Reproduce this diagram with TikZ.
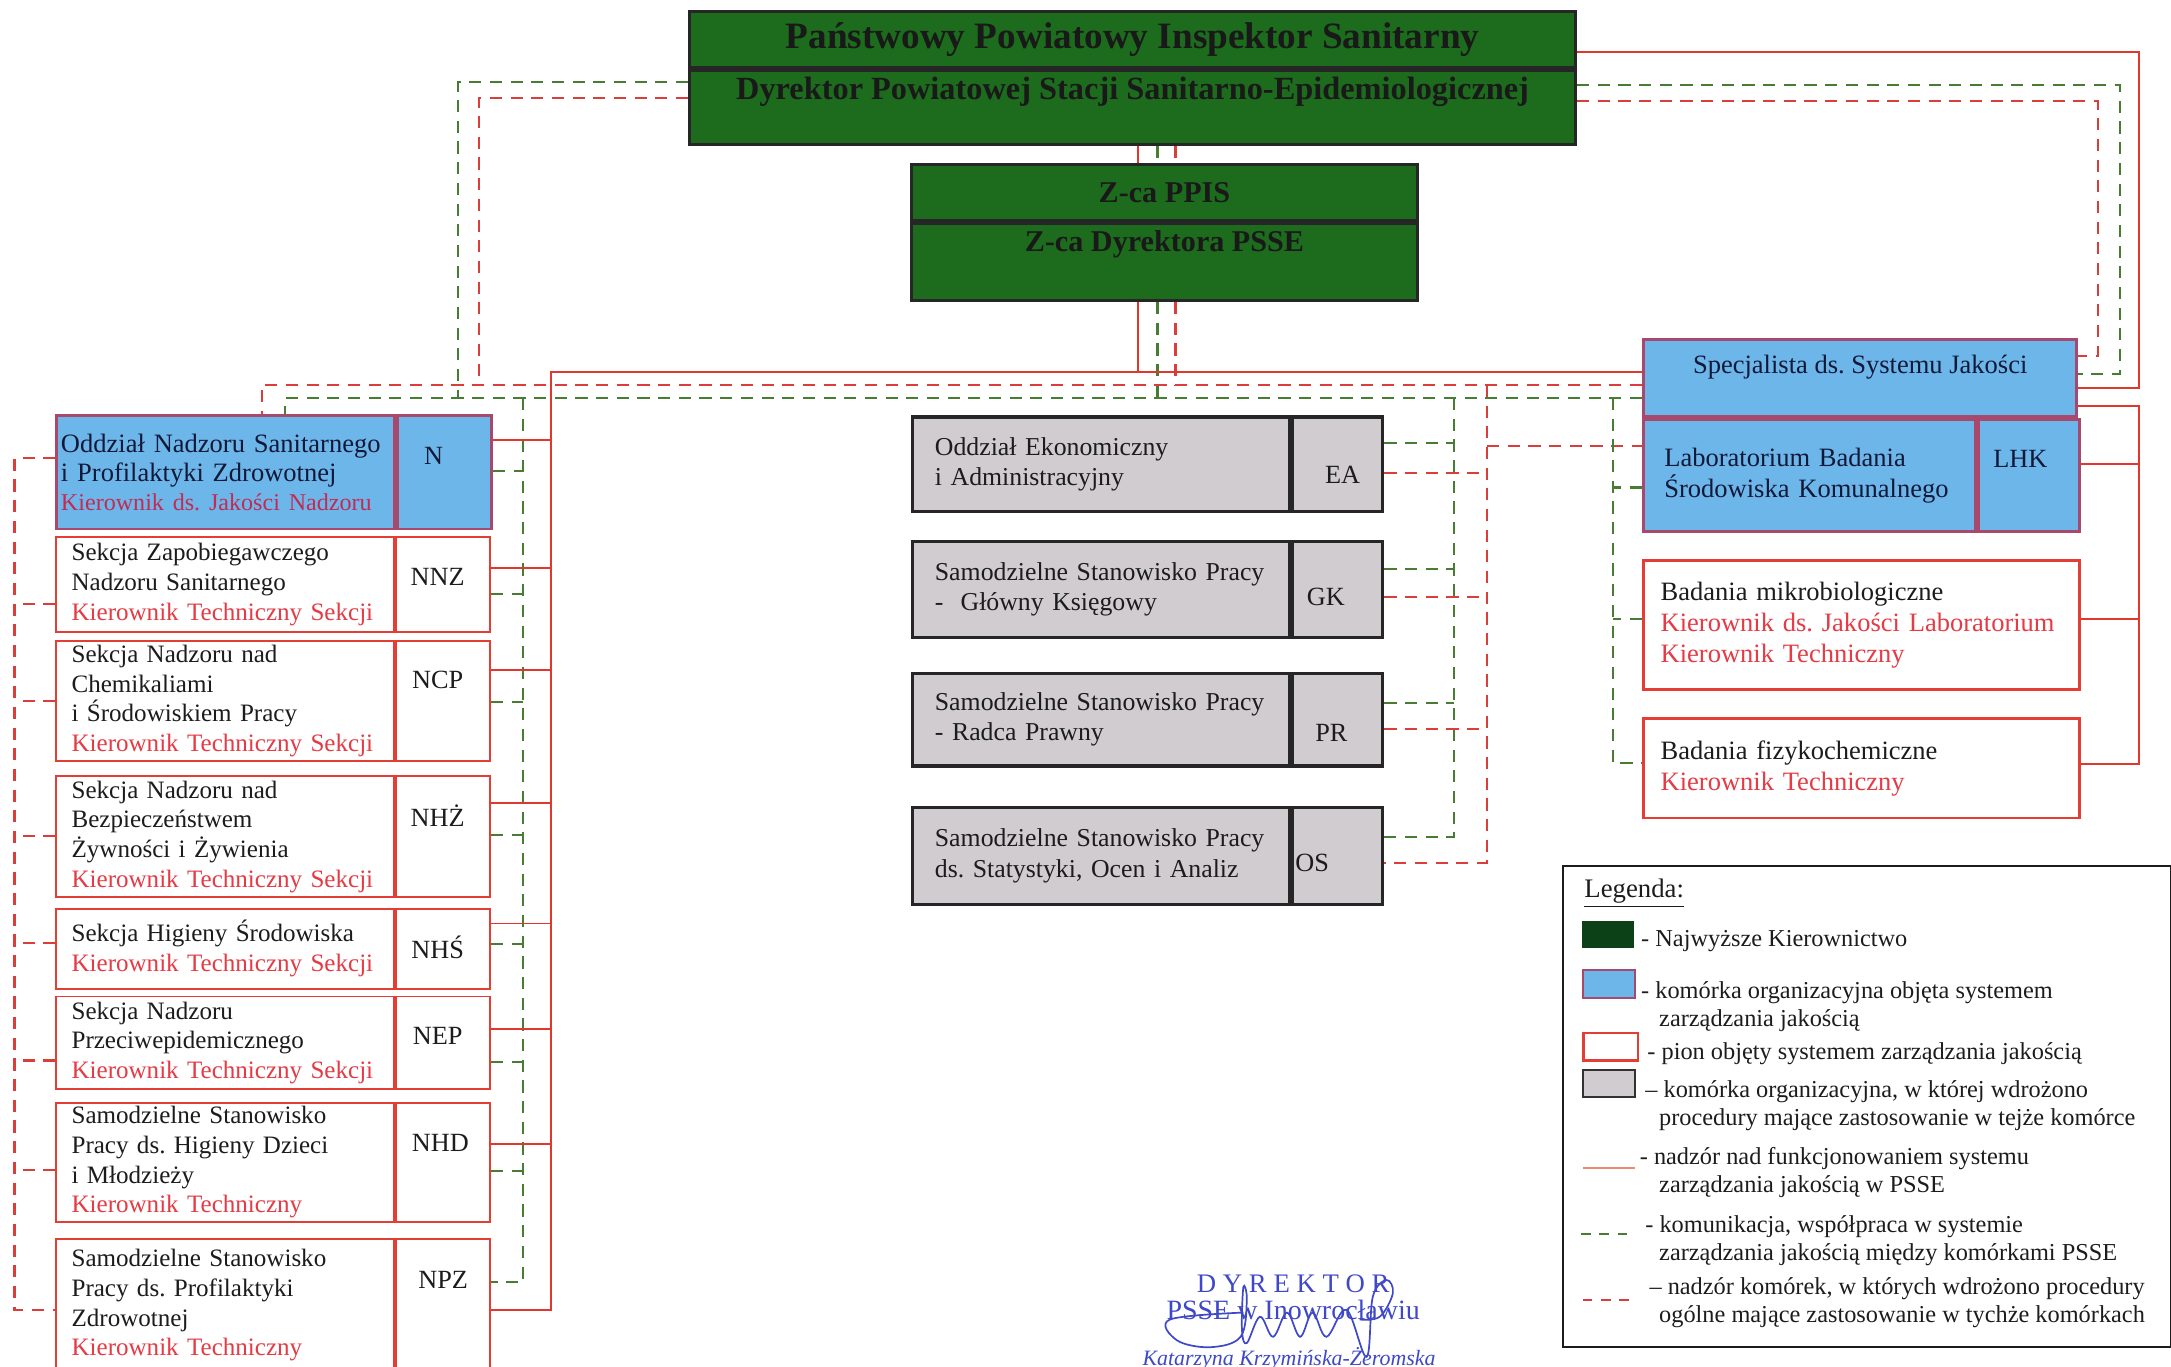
\documentclass[tikz,border=0pt]{standalone}
\usepackage{fontspec}
\setmainfont{Liberation Serif}
\usetikzlibrary{calc}
\frenchspacing

\definecolor{topgreen}{RGB}{29,107,29}
\definecolor{legdark}{RGB}{12,64,22}
\definecolor{cellblue}{RGB}{108,182,234}
\definecolor{bluebord}{RGB}{168,72,108}
\definecolor{cellgray}{RGB}{208,204,208}
\definecolor{boxred}{RGB}{228,62,52}
\definecolor{linered}{RGB}{225,55,45}
\definecolor{dashred}{RGB}{218,62,58}
\definecolor{linegreen}{RGB}{72,124,50}
\definecolor{txtred}{RGB}{230,58,68}
\definecolor{txtcrimson}{RGB}{196,42,82}
\definecolor{txtnavy}{RGB}{18,24,56}
\definecolor{txtdark}{RGB}{28,28,28}
\definecolor{legsolid}{RGB}{236,140,110}
\definecolor{stampblue}{RGB}{62,72,200}

\newcommand\lefttext{\fontsize{10.3}{12.2}\selectfont}
\newcommand\midtext{\fontsize{10.6}{12.5}\selectfont}
\newcommand\righttext{\fontsize{10.9}{12.8}\selectfont}
\newcommand\legtext{\fontsize{10}{11.4}\selectfont}
\newcommand\zcafont{\bfseries\fontsize{12.4}{13}\selectfont}

\tikzset{
  dirbox/.style={anchor=north west, fill=topgreen, draw=black!85, line width=1.2pt, inner sep=0pt, text=black!90, font=\bfseries\fontsize{15.3}{16}\selectfont},
  dirtxt/.style={inner sep=0pt, text=black!90, font=\bfseries\fontsize{13.3}{14}\selectfont},
  bluecell/.style={anchor=north west, fill=cellblue, draw=bluebord, line width=1.2pt, inner sep=0pt},
  redcell/.style={anchor=north west, fill=white, draw=boxred, line width=0.8pt, inner ysep=0pt, inner xsep=0.22cm, text width=4.44cm, align=left, font=\lefttext, text=txtdark},
  redcode/.style={anchor=north west, fill=white, draw=boxred, line width=0.8pt, inner sep=0pt, minimum width=1.36cm},
  graycell/.style={anchor=north west, fill=cellgray, draw=black!85, line width=1.4pt, inner ysep=0pt, inner xsep=0.32cm, text width=4.8cm, align=left, font=\midtext, text=txtdark},
  graycode/.style={anchor=north west, fill=cellgray, draw=black!85, line width=1.4pt, inner sep=0pt, minimum width=1.3cm},
  labcell/.style={anchor=north west, fill=white, draw=boxred, line width=1pt, inner ysep=0pt, inner xsep=0.25cm, text width=5.8cm, align=left, font=\righttext, text=txtdark},
  codetxt/.style={inner sep=0pt, font=\fontsize{10.8}{12}\selectfont, text=txtdark},
  supline/.style={draw=linered, line width=0.8pt},
  comline/.style={draw=linegreen, line width=0.9pt, dash pattern=on 5pt off 3.5pt},
  proline/.style={draw=dashred, line width=0.9pt, dash pattern=on 5pt off 3.5pt},
  swatch/.style={anchor=north west, inner sep=0pt},
  legitem/.style={anchor=north west, inner sep=0pt, align=left, font=\legtext, text=txtdark},
  stamp/.style={inner sep=0pt, text=stampblue, font=\fontsize{11}{11}\selectfont},
  signink/.style={draw=stampblue, line width=0.7pt},
}

\begin{document}
\begin{tikzpicture}[x=0.02cm, y=-0.02cm]
\useasboundingbox (0,0) rectangle (1568,987);

% kierownictwo
\node[dirbox, minimum width=12.8cm, minimum height=0.82cm] (ppis) at (497,7) {Państwowy Powiatowy Inspektor Sanitarny};
\node[dirbox, minimum width=12.8cm, minimum height=1.06cm] (dyr) at (ppis.south west) {};
\node[dirtxt] (dyrT) at ($(dyr.north)+(0,16)$) {Dyrektor Powiatowej Stacji Sanitarno-Epidemiologicznej};
\node[dirbox, font=\zcafont, minimum width=7.32cm, minimum height=0.8cm] (zca) at (657,118) {Z-ca PPIS};
\node[dirbox, minimum width=7.32cm, minimum height=1.12cm] (zdyr) at (zca.south west) {};
\node[dirtxt, font=\zcafont] (zdyrT) at ($(zdyr.north)+(0,16)$) {Z-ca Dyrektora PSSE};

% pion nadzoru
\node[bluecell, inner xsep=0.06cm, text width=4.76cm, align=left, minimum height=1.64cm, font=\fontsize{10.9}{12}\selectfont, text=txtnavy] (rN) at (40,299) {Oddział Nadzoru Sanitarnego\\i Profilaktyki Zdrowotnej\\{\fontsize{9.9}{12}\selectfont\color{txtcrimson}Kierownik ds. Jakości Nadzoru}};
\node[bluecell, minimum width=1.36cm, minimum height=1.64cm] (cN) at (rN.north east) {};
\node[codetxt, text=txtnavy] (lN) at ($(cN.north)+(-8,30)$) {N};

\node[redcell, minimum height=1.38cm] (rNNZ) at (40,387) {Sekcja Zapobiegawczego\\Nadzoru Sanitarnego\\\textcolor{txtred}{Kierownik Techniczny Sekcji}};
\node[redcode, minimum height=1.38cm] (cNNZ) at (rNNZ.north east) {};
\node[codetxt] (lNNZ) at ($(cNNZ.north)+(-4,30)$) {NNZ};

\node[redcell, minimum height=1.74cm] (rNCP) at (40,462) {Sekcja Nadzoru nad\\Chemikaliami\\i Środowiskiem Pracy\\\textcolor{txtred}{Kierownik Techniczny Sekcji}};
\node[redcode, minimum height=1.74cm] (cNCP) at (rNCP.north east) {};
\node[codetxt] (lNCP) at ($(cNCP.north)+(-4,29)$) {NCP};

\node[redcell, minimum height=1.74cm] (rNHZ) at (40,560) {Sekcja Nadzoru nad\\Bezpieczeństwem\\Żywności i Żywienia\\\textcolor{txtred}{Kierownik Techniczny Sekcji}};
\node[redcode, minimum height=1.74cm] (cNHZ) at (rNHZ.north east) {};
\node[codetxt] (lNHZ) at ($(cNHZ.north)+(-4,29)$) {NHŻ};

\node[redcell, minimum height=1.16cm] (rNHS) at (40,655.5) {Sekcja Higieny Środowiska\\\textcolor{txtred}{Kierownik Techniczny Sekcji}};
\node[redcode, minimum height=1.16cm] (cNHS) at (rNHS.north east) {};
\node[codetxt] (lNHS) at ($(cNHS.north)+(-4,29)$) {NHŚ};

\node[redcell, minimum height=1.34cm] (rNEP) at (40,719) {Sekcja Nadzoru\\Przeciwepidemicznego\\\textcolor{txtred}{Kierownik Techniczny Sekcji}};
\node[redcode, minimum height=1.34cm] (cNEP) at (rNEP.north east) {};
\node[codetxt] (lNEP) at ($(cNEP.north)+(-4,29.5)$) {NEP};

\node[redcell, minimum height=1.73cm] (rNHD) at (40,795.6) {Samodzielne Stanowisko\\Pracy ds. Higieny Dzieci\\i Młodzieży\\\textcolor{txtred}{Kierownik Techniczny}};
\node[redcode, minimum height=1.73cm] (cNHD) at (rNHD.north east) {};
\node[codetxt] (lNHD) at ($(cNHD.north)+(-2,30)$) {NHD};

\node[redcell, minimum height=1.92cm] (rNPZ) at (40,894) {Samodzielne Stanowisko\\Pracy ds. Profilaktyki\\Zdrowotnej\\\textcolor{txtred}{Kierownik Techniczny}};
\node[redcode, minimum height=1.92cm] (cNPZ) at (rNPZ.north east) {};
\node[codetxt] (lNPZ) at ($(cNPZ.north)+(0,30.5)$) {NPZ};

% komorki ogolne
\node[graycell, minimum height=1.36cm] (rEA) at (658,300) {Oddział Ekonomiczny\\i Administracyjny};
\node[graycode, minimum height=1.36cm] (cEA) at (rEA.north east) {};
\node[codetxt] (lEA) at ($(cEA.north)+(3.5,43)$) {EA};

\node[graycell, minimum height=1.38cm] (rGK) at (658,390) {Samodzielne Stanowisko Pracy\\-~ Główny Księgowy};
\node[graycode, minimum height=1.38cm] (cGK) at (rGK.north east) {};
\node[codetxt] (lGK) at ($(cGK.north)+(-8.5,41)$) {GK};

\node[graycell, minimum height=1.34cm] (rPR) at (658,485) {Samodzielne Stanowisko Pracy\\- Radca Prawny};
\node[graycode, minimum height=1.34cm] (cPR) at (rPR.north east) {};
\node[codetxt] (lPR) at ($(cPR.north)+(-4.5,44)$) {PR};

\node[graycell, minimum height=1.40cm] (rOS) at (658,582) {Samodzielne Stanowisko Pracy\\ds. Statystyki, Ocen i Analiz};
\node[graycode, minimum height=1.40cm] (cOS) at (rOS.north east) {};
\node[codetxt] (lOS) at ($(cOS.north)+(-18.5,41)$) {OS};

% laboratorium
\node[bluecell, minimum width=6.26cm, minimum height=1.12cm] (spec) at (1186,244) {};
\node[inner sep=0pt, font=\righttext, text=txtnavy] (specT) at ($(spec.north)+(0,21)$) {Specjalista ds. Systemu Jakości};
\node[bluecell, inner xsep=0.3cm, text width=4.2cm, align=left, minimum height=1.62cm, font=\righttext, text=txtnavy] (rLHK) at (spec.south west) {Laboratorium Badania\\Środowiska Komunalnego};
\node[bluecell, minimum width=1.46cm, minimum height=1.62cm] (cLHK) at (rLHK.north east) {};
\node[codetxt, text=txtnavy] (lLHK) at ($(cLHK.north)+(-6.5,29.5)$) {LHK};

\node[labcell, minimum height=1.86cm] (rMIK) at (1186,404) {Badania mikrobiologiczne\\\textcolor{txtred}{Kierownik ds. Jakości Laboratorium}\\\textcolor{txtred}{Kierownik Techniczny}};
\node[labcell, minimum height=1.44cm] (rFIZ) at (1186,518) {Badania fizykochemiczne\\\textcolor{txtred}{Kierownik Techniczny}};

% punkty szyn
\coordinate (sv) at (822,0);
\coordinate (gv) at (836,0);
\coordinate (pv) at (849,0);
\coordinate (sh) at (0,268.5);
\coordinate (ph) at (0,278);
\coordinate (gh) at (0,287.5);
\coordinate (sL) at (398,0);
\coordinate (gL) at (378,0);
\coordinate (pL) at (10.5,0);
\coordinate (gW) at (331,0);
\coordinate (pW) at (346,0);
\coordinate (gN) at (206,0);
\coordinate (pN) at (189,0);
\coordinate (gC) at (1050,0);
\coordinate (pC) at (1074,0);
\coordinate (gR) at (1165,0);
\coordinate (sR) at (1545,0);
\coordinate (gT) at (1531,0);
\coordinate (pT) at (1515,0);

% kierownictwo -> zastepca
\draw[supline] (dyr.south -| sv) -- (zca.north -| sv);
\draw[comline] (dyr.south -| gv) -- (zca.north -| gv);
\draw[proline] (dyr.south -| pv) -- (zca.north -| pv);
\draw[supline] (zdyr.south -| sv) -- (sv |- sh);
\draw[comline] (zdyr.south -| gv) -- (gv |- gh);
\draw[proline] (zdyr.south -| pv) -- (pv |- ph);

% kierownictwo -> lewa strona
\draw[comline] ($(dyr.north west)+(0,9)$) coordinate (st) -- (st -| gW) -- (gW |- gh);
\draw[proline] ($(dyr.north west)+(0,20.5)$) coordinate (st) -- (st -| pW) -- (pW |- ph);

% kierownictwo -> specjalista
\coordinate (sEnd) at ($(spec.north east)+(0,36)$);
\coordinate (gEnd) at ($(spec.north east)+(0,26)$);
\coordinate (pEnd) at ($(spec.north east)+(0,13)$);
\draw[supline] ($(ppis.north east)+(0,30.5)$) coordinate (st) -- (st -| sR) -- (sR |- sEnd) -- (sEnd);
\draw[comline] ($(dyr.north east)+(0,11.5)$) coordinate (st) -- (st -| gT) -- (gT |- gEnd) -- (gEnd);
\draw[proline] ($(dyr.north east)+(0,23)$) coordinate (st) -- (st -| pT) -- (pT |- pEnd) -- (pEnd);

% glowne szyny poziome
\coordinate (sBot) at ($(cNPZ.north east)+(0,52)$);
\coordinate (gBot) at ($(cNPZ.north east)+(0,32)$);
\coordinate (pTop) at ($(rN.north west)+(0,32)$);
\coordinate (pBot) at ($(rNPZ.north west)+(0,52)$);
\draw[supline] (spec.west |- sh) -- (sL |- sh) -- (sL |- sBot) -- (sBot);
\draw[proline] (spec.west |- ph) -- (pN |- ph) -- (pN |- rN.north);
\draw[comline] (spec.west |- gh) -- (gN |- gh) -- (gN |- rN.north);
\draw[comline] (gL |- gh) -- (gL |- gBot) -- (gBot);
\draw[proline] (pTop) -- (pTop -| pL) -- (pBot -| pL) -- (pBot);

% odgalezienia pionu nadzoru
\foreach \rw/\ys/\yg in {N/19/41, NNZ/23/42, NCP/22/45, NHZ/20/43, NHS/11.5/26.5, NEP/24/48, NHD/30.4/50.4}{
  \draw[supline] ($(c\rw.north east)+(0,\ys)$) coordinate (st) -- (st -| sL);
  \draw[comline] ($(c\rw.north east)+(0,\yg)$) coordinate (st) -- (st -| gL);
}
\foreach \rw/\yp in {NNZ/49, NCP/44, NHZ/44, NHS/25.5, NEP/47, NHD/49.4}
  \draw[proline] ($(r\rw.north west)+(0,\yp)$) coordinate (st) -- (st -| pL);

% komorki ogolne
\coordinate (gOS) at ($(cOS.north east)+(0,22.5)$);
\coordinate (pOS) at ($(cOS.north east)+(0,41)$);
\coordinate (pLab) at ($(rLHK.north west)+(0,20)$);
\draw[comline] (gC |- gh) -- (gC |- gOS) -- (gOS);
\draw[proline] (pC |- ph) -- (pC |- pOS) -- (pOS);
\draw[proline] (pC |- pLab) -- (pLab);
\foreach \rw/\yg/\yp in {EA/20/41.5, GK/21/41, PR/23/41.5}{
  \draw[comline] ($(c\rw.north east)+(0,\yg)$) coordinate (st) -- (st -| gC);
  \draw[proline] ($(c\rw.north east)+(0,\yp)$) coordinate (st) -- (st -| pC);
}

% laboratorium
\coordinate (gFiz) at ($(rFIZ.north west)+(0,33)$);
\coordinate (sFiz) at ($(rFIZ.north east)+(0,34)$);
\draw[comline] (gR |- gh) -- (gR |- gFiz) -- (gFiz);
\draw[comline] ($(rLHK.north west)+(0,50)$) coordinate (st) -- (st -| gR);
\draw[comline] ($(rMIK.north west)+(0,43)$) coordinate (st) -- (st -| gR);
\draw[supline] ($(spec.north east)+(0,49)$) coordinate (st) -- (st -| sR) -- (sR |- sFiz) -- (sFiz);
\draw[supline] ($(cLHK.north east)+(0,33)$) coordinate (st) -- (st -| sR);
\draw[supline] ($(rMIK.north east)+(0,43)$) coordinate (st) -- (st -| sR);

% legenda
\node[draw=txtdark, line width=0.8pt, anchor=north west, inner sep=0pt, minimum width=8.78cm, minimum height=6.94cm] (legend) at (1128,625) {};
\node[anchor=west, inner sep=0pt, font=\fontsize{11}{12}\selectfont, text=txtdark] (legT) at (1144,645) {\underline{Legenda:}};
\node[swatch, fill=legdark, minimum width=0.75cm, minimum height=0.38cm] (swTop) at (1142.5,665) {};
\node[swatch, fill=cellblue, draw=bluebord, line width=0.8pt, minimum width=0.75cm, minimum height=0.40cm] (swBlue) at (1142.5,700) {};
\node[swatch, fill=white, draw=boxred, line width=1.2pt, minimum width=0.79cm, minimum height=0.40cm] (swPion) at (1142.5,745) {};
\node[swatch, fill=cellgray, draw=black!80, line width=1pt, minimum width=0.75cm, minimum height=0.39cm] (swGray) at (1142.5,772) {};
\coordinate (lsA) at (1143,843.6); \coordinate (lsB) at (1181,843.6);
\coordinate (lgA) at (1142,891); \coordinate (lgB) at (1181,891);
\coordinate (lpA) at (1143,939); \coordinate (lpB) at (1181,939);
\draw[draw=legsolid, line width=0.8pt] (lsA) -- (lsB);
\draw[comline, dash pattern=on 4pt off 3.5pt] (lgA) -- (lgB);
\draw[proline, dash pattern=on 4pt off 3.5pt] (lpA) -- (lpB);
\node[legitem] (lg1) at (1185,671.5) {- Najwyższe Kierownictwo};
\node[legitem] (lg2) at (1185,708.6) {- komórka organizacyjna objęta systemem\\\hspace*{0.26cm}zarządzania jakością};
\node[legitem] (lg3) at (1189.5,753) {- pion objęty systemem zarządzania jakością};
\node[legitem] (lg4) at (1188,780) {– komórka organizacyjna, w której wdrożono\\\hspace*{0.2cm}procedury mające zastosowanie w tejże komórce};
\node[legitem] (lg5) at (1184,828.5) {- nadzór nad funkcjonowaniem systemu\\\hspace*{0.28cm}zarządzania jakością w PSSE};
\node[legitem] (lg6) at (1188,877.5) {- komunikacja, współpraca w systemie\\\hspace*{0.2cm}zarządzania jakością między komórkami PSSE};
\node[legitem] (lg7) at (1191,922.6) {– nadzór komórek, w których wdrożono procedury\\\hspace*{0.14cm}ogólne mające zastosowanie w tychże komórkach};

% pieczatka
\node[stamp] (stA) at (934,927) {D Y R E K T O R};
\node[stamp, font=\fontsize{11.5}{11.5}\selectfont] (stB) at (934,946) {PSSE w Inowrocławiu};
\node[stamp, anchor=base, font=\itshape\fontsize{9}{9}\selectfont] (stC) at (931,986) {Katarzyna Krzymińska-Żeromska};
\draw[signink] plot[smooth, tension=0.6] coordinates {(898,948) (845,953) (850,968) (874,973) (896,965.5) (900.5,939) (898,929.5) (897,960.5) (900.5,970) (910,951) (919.5,965.5) (929.5,948) (939,965.5) (948,948) (958,965.5) (972.5,946) (987,980) (991.5,936.5) (1001.5,924.5) (1006,934) (996.5,951) (982,953)};
\end{tikzpicture}
\end{document}
